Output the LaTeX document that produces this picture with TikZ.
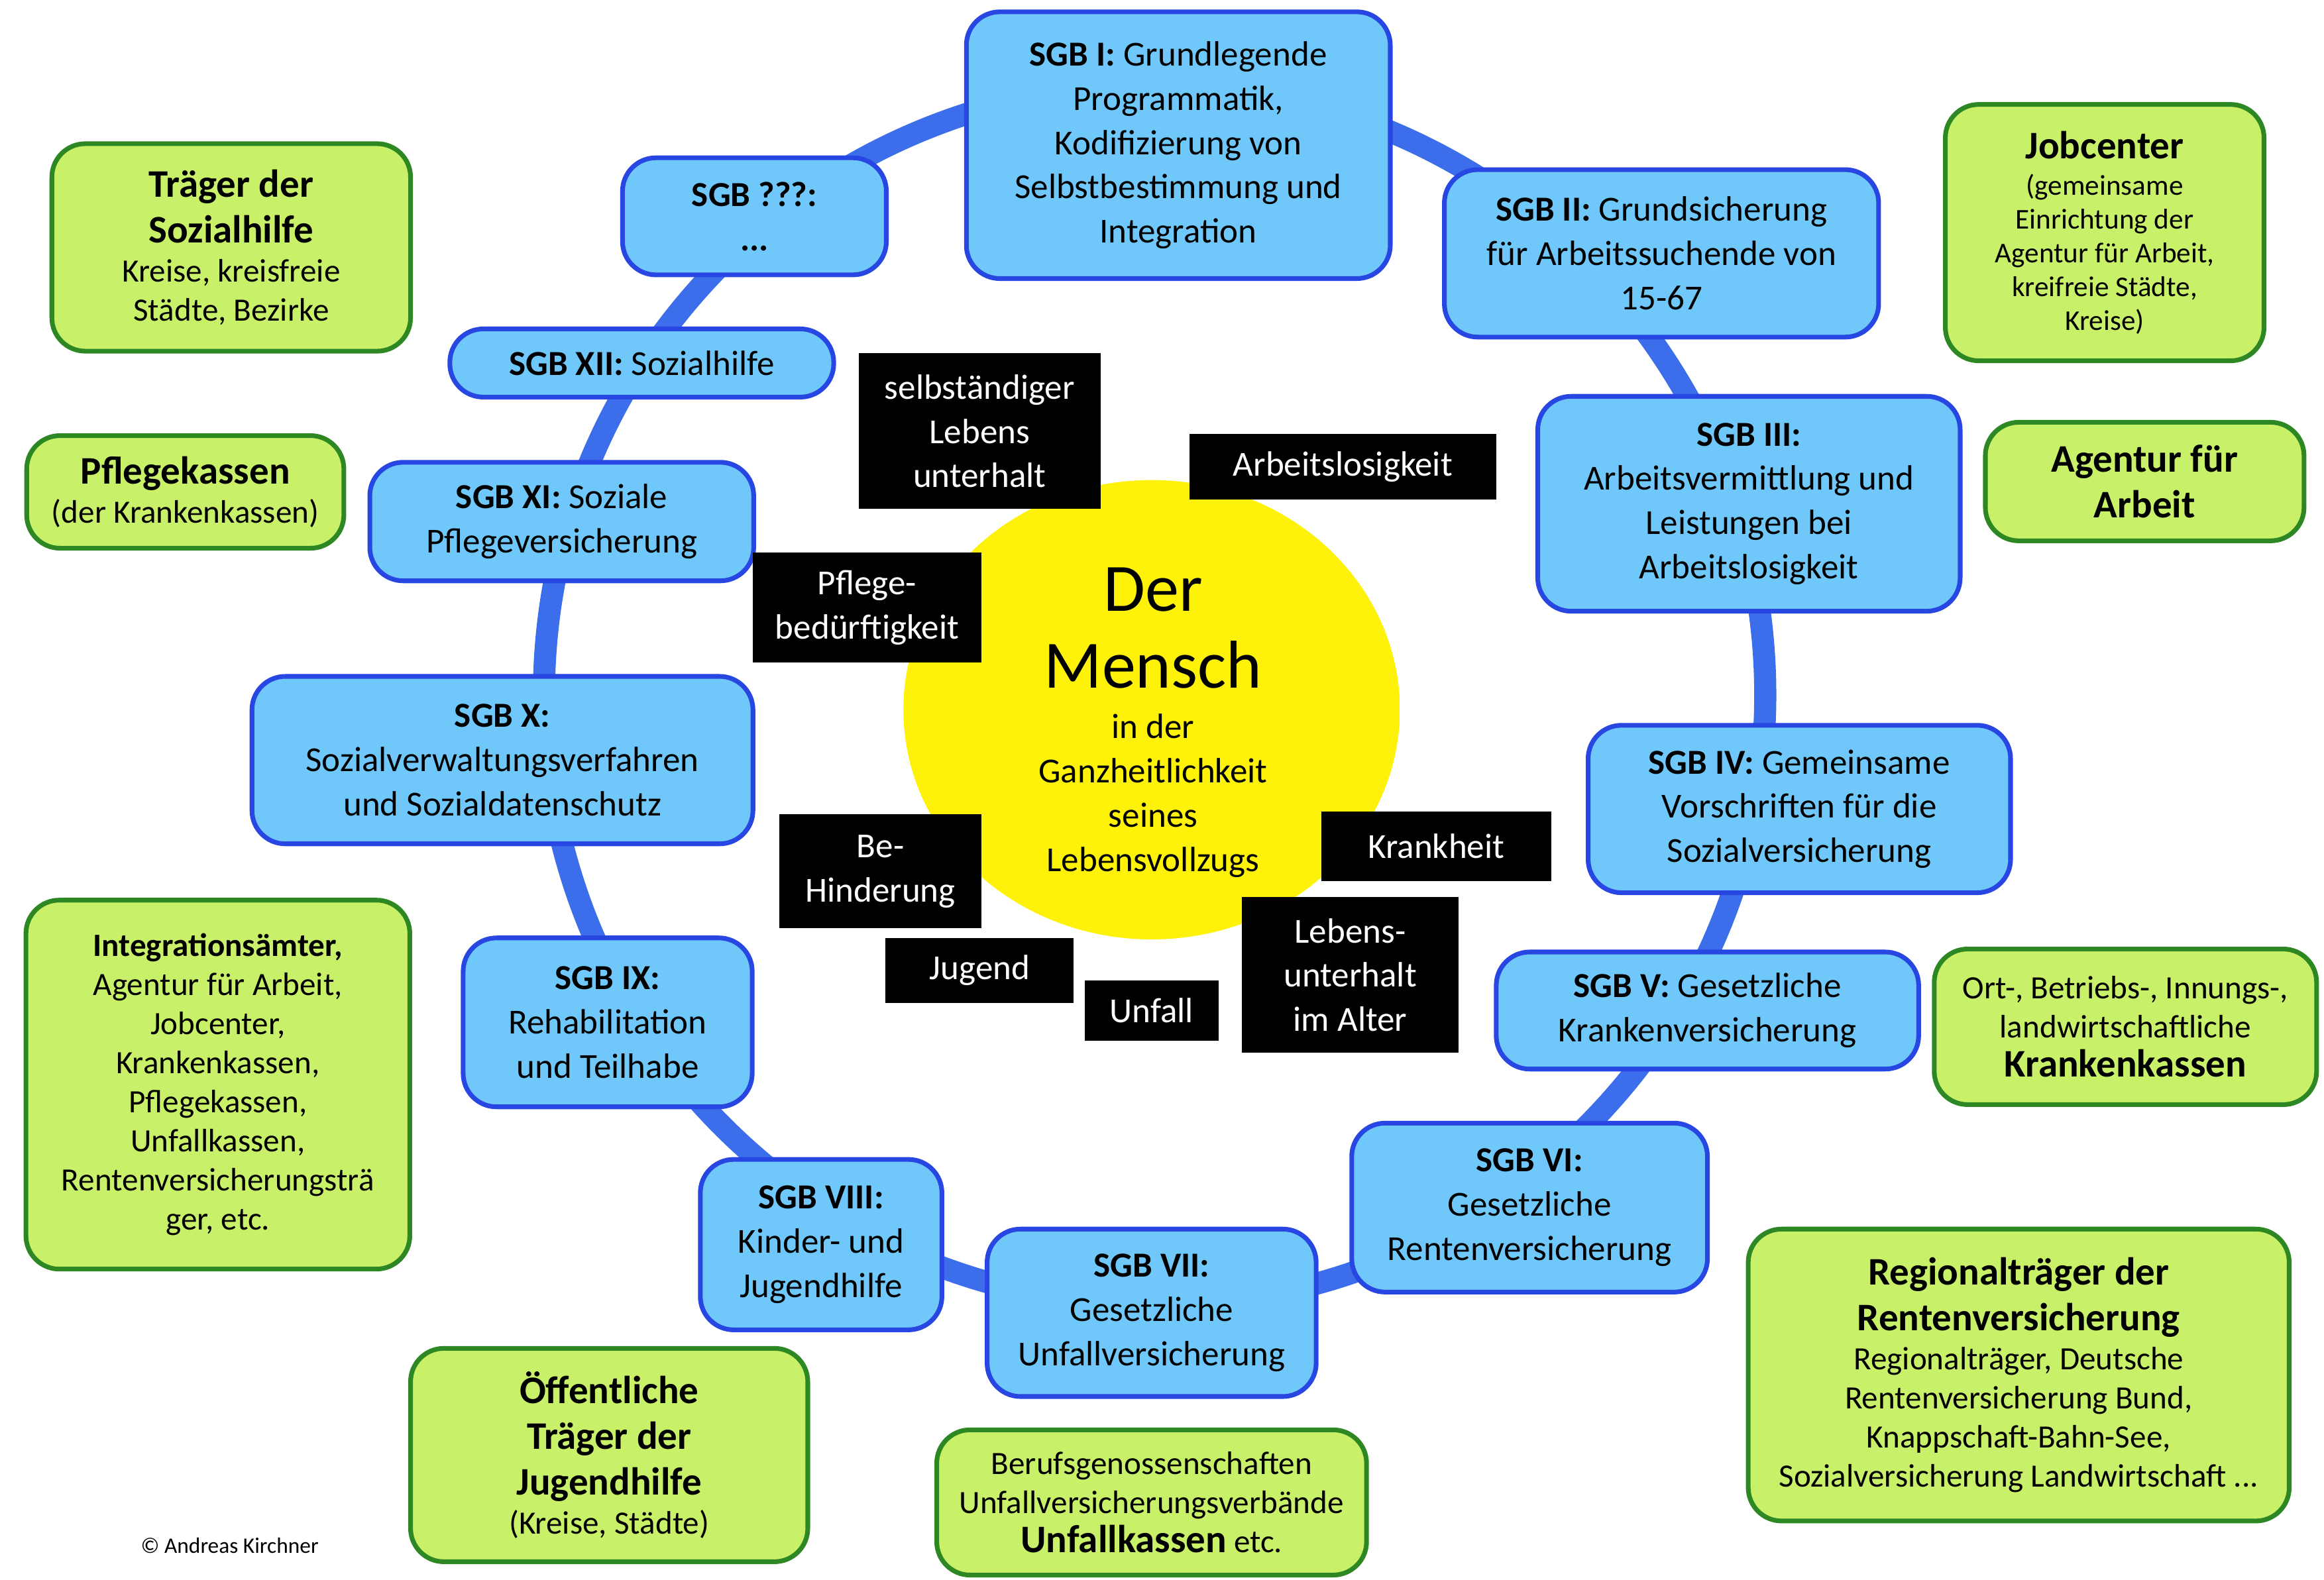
\documentclass[tikz,border=0pt]{standalone}
\usepackage{fontspec}
\setmainfont{Carlito}
\usepackage{tikz}
\usetikzlibrary{positioning}

\definecolor{sgbfill}{RGB}{112,200,250}
\definecolor{sgbline}{RGB}{40,70,225}
\definecolor{ringblue}{RGB}{60,110,235}
\definecolor{traegerfill}{RGB}{200,240,105}
\definecolor{traegerline}{RGB}{45,135,35}
\definecolor{sonnengelb}{RGB}{255,242,10}

\pgfdeclareradialshading{sonne}{\pgfpointorigin}{color(0bp)=(sonnengelb); color(37bp)=(sonnengelb); color(44bp)=(sonnengelb!65!white); color(50bp)=(white)}

\newcommand{\titel}[1]{{\fontsize{15}{18}\selectfont\bfseries #1}}

\tikzset{
  sgb/.style={draw=sgbline, fill=sgbfill, line width=1.8pt, rounded corners=0.45cm, align=center, inner sep=2pt, font=\fontsize{13.5}{17}\selectfont},
  traeger/.style={draw=traegerline, fill=traegerfill, line width=1.8pt, rounded corners=0.45cm, align=center, inner sep=2pt, font=\fontsize{12.5}{15}\selectfont},
  risiko/.style={fill=black, text=white, align=center, inner sep=2pt, font=\fontsize{13.5}{17}\selectfont},
  ring/.style={draw=ringblue, line width=8.5pt}
}

\begin{document}
\begin{tikzpicture}
      \useasboundingbox (0,0) rectangle (31.36,21.32);
      \coordinate (mitte) at (15.58,11.94);
      % ring and sun
      \draw[ring] (mitte) circle (8.24);
      \shade[shading=sonne] (15.54,11.74) ellipse (3.35 and 3.1);
      \node[font=\fontsize{26}{29.6}\selectfont, align=center] (mensch) at (15.56,12.84) {Der\\ Mensch};
      \node[font=\fontsize{13.5}{17}\selectfont, align=center] (ganzheit) at (15.56,10.58) {in der\\ Ganzheitlichkeit\\ seines\\ Lebensvollzugs};
      % SGB books
      \node[sgb, minimum width=5.72cm, minimum height=3.6cm] (sgbI) at (15.90,19.36) {\textbf{SGB I:} Grundlegende\\ Programmatik,\\ Kodifizierung von\\ Selbstbestimmung und\\ Integration};
      \node[sgb, minimum width=5.86cm, minimum height=2.26cm] (sgbII) at (22.42,17.90) {\textbf{SGB II:} Grundsicherung\\ für Arbeitssuchende von\\ 15-67};
      \node[sgb, minimum width=5.70cm, minimum height=2.90cm] (sgbIII) at (23.60,14.52) {\textbf{SGB III:}\\ Arbeitsvermittlung und\\ Leistungen bei\\ Arbeitslosigkeit};
      \node[sgb, minimum width=5.70cm, minimum height=2.26cm] (sgbIV) at (24.28,10.40) {\textbf{SGB IV:} Gemeinsame\\ Vorschriften für die\\ Sozialversicherung};
      \node[sgb, minimum width=5.70cm, minimum height=1.58cm] (sgbV) at (23.04,7.68) {\textbf{SGB V:} Gesetzliche\\ Krankenversicherung};
      \node[sgb, minimum width=4.80cm, minimum height=2.28cm] (sgbVI) at (20.64,5.02) {\textbf{SGB VI:}\\ Gesetzliche\\ Rentenversicherung};
      \node[sgb, minimum width=4.44cm, minimum height=2.26cm] (sgbVII) at (15.54,3.60) {\textbf{SGB VII:}\\ Gesetzliche\\ Unfallversicherung};
      \node[sgb, minimum width=3.26cm, minimum height=2.30cm] (sgbVIII) at (11.08,4.52) {\textbf{SGB VIII:}\\ Kinder- und\\ Jugendhilfe};
      \node[sgb, minimum width=3.90cm, minimum height=2.28cm] (sgbIX) at (8.20,7.52) {\textbf{SGB IX:}\\ Rehabilitation\\ und Teilhabe};
      \node[sgb, minimum width=6.76cm, minimum height=2.26cm] (sgbX) at (6.78,11.06) {\textbf{SGB X:}\\ Sozialverwaltungsverfahren\\ und Sozialdatenschutz};
      \node[sgb, minimum width=5.18cm, minimum height=1.60cm] (sgbXI) at (7.58,14.28) {\textbf{SGB XI:} Soziale\\ Pflegeversicherung};
      \node[sgb, minimum width=5.18cm, minimum height=0.92cm] (sgbXII) at (8.66,16.42) {\textbf{SGB XII:} Sozialhilfe};
      \node[sgb, minimum width=3.56cm, minimum height=1.58cm] (sgbNN) at (10.18,18.40) {\textbf{SGB ???:}\\ \textbf{...}};
      % life risks
      \node[risiko, minimum width=3.26cm, minimum height=2.10cm] (selbst) at (13.22,15.50) {selbständiger\\ Lebens\\ unterhalt};
      \node[risiko, minimum width=4.14cm, minimum height=0.88cm] (arbeitslos) at (18.12,15.02) {Arbeitslosigkeit};
      \node[risiko, minimum width=3.08cm, minimum height=1.48cm] (pflegebed) at (11.70,13.12) {Pflege-\\ bedürftigkeit};
      \node[risiko, minimum width=2.72cm, minimum height=1.54cm] (behinderung) at (11.88,9.56) {Be-\\ Hinderung};
      \node[risiko, minimum width=3.10cm, minimum height=0.94cm] (krankheit) at (19.38,9.90) {Krankheit};
      \node[risiko, minimum width=2.54cm, minimum height=0.88cm] (jugend) at (13.22,8.22) {Jugend};
      \node[risiko, minimum width=1.80cm, minimum height=0.82cm] (unfall) at (15.54,7.68) {Unfall};
      \node[risiko, minimum width=2.92cm, minimum height=2.10cm] (alter) at (18.22,8.16) {Lebens-\\ unterhalt\\ im Alter};
      % carriers
      \node[traeger, minimum width=4.84cm, minimum height=2.80cm] (traegerSH) at (3.12,17.98) {\titel{Träger der}\\[2.5pt] \titel{Sozialhilfe}\\ Kreise, kreisfreie\\ Städte, Bezirke};
      \node[traeger, minimum width=4.28cm, minimum height=1.52cm] (pflegekassen) at (2.50,14.68) {\titel{Pflegekassen}\\ (der Krankenkassen)};
      \node[traeger, minimum width=5.18cm, minimum height=4.98cm] (integration) at (2.94,6.68) {\textbf{Integrationsämter,}\\ Agentur für Arbeit,\\ Jobcenter,\\ Krankenkassen,\\ Pflegekassen,\\ Unfallkassen,\\ Rentenversicherungsträ\\ ger, etc.};
      \node[traeger, minimum width=5.36cm, minimum height=2.88cm] (jugendtraeger) at (8.22,1.68) {\titel{Öffentliche}\\[2.5pt] \titel{Träger der}\\[2.5pt] \titel{Jugendhilfe}\\ (Kreise, Städte)};
      \node[traeger, minimum width=5.80cm, minimum height=1.96cm] (unfallkassen) at (15.54,1.04) {Berufsgenossenschaften\\ Unfallversicherungsverbände\\ \titel{Unfallkassen} etc.};
      \node[traeger, minimum width=7.30cm, minimum height=3.94cm] (renten) at (27.24,2.76) {\titel{Regionalträger der}\\[2.5pt] \titel{Rentenversicherung}\\ Regionalträger, Deutsche\\ Rentenversicherung Bund,\\ Knappschaft-Bahn-See,\\ Sozialversicherung Landwirtschaft ...};
      \node[traeger, minimum width=5.16cm, minimum height=2.10cm] (krankenkassen) at (28.68,7.46) {Ort-, Betriebs-, Innungs-,\\ landwirtschaftliche\\ \titel{Krankenkassen}};
      \node[traeger, minimum width=4.30cm, minimum height=1.60cm] (agentur) at (28.94,14.82) {\titel{Agentur für}\\[2.5pt] \titel{Arbeit}};
      \node[traeger, minimum width=4.30cm, minimum height=3.46cm, font=\fontsize{11}{13}\selectfont] (jobcenter) at (28.40,18.18) {\titel{Jobcenter}\\[1pt] (gemeinsame\\ Einrichtung der\\ Agentur für Arbeit,\\ kreifreie Städte,\\ Kreise)};
      \node[font=\fontsize{8.5}{10}\selectfont] (copyright) at (3.10,0.46) {© Andreas Kirchner};
\end{tikzpicture}
\end{document}
